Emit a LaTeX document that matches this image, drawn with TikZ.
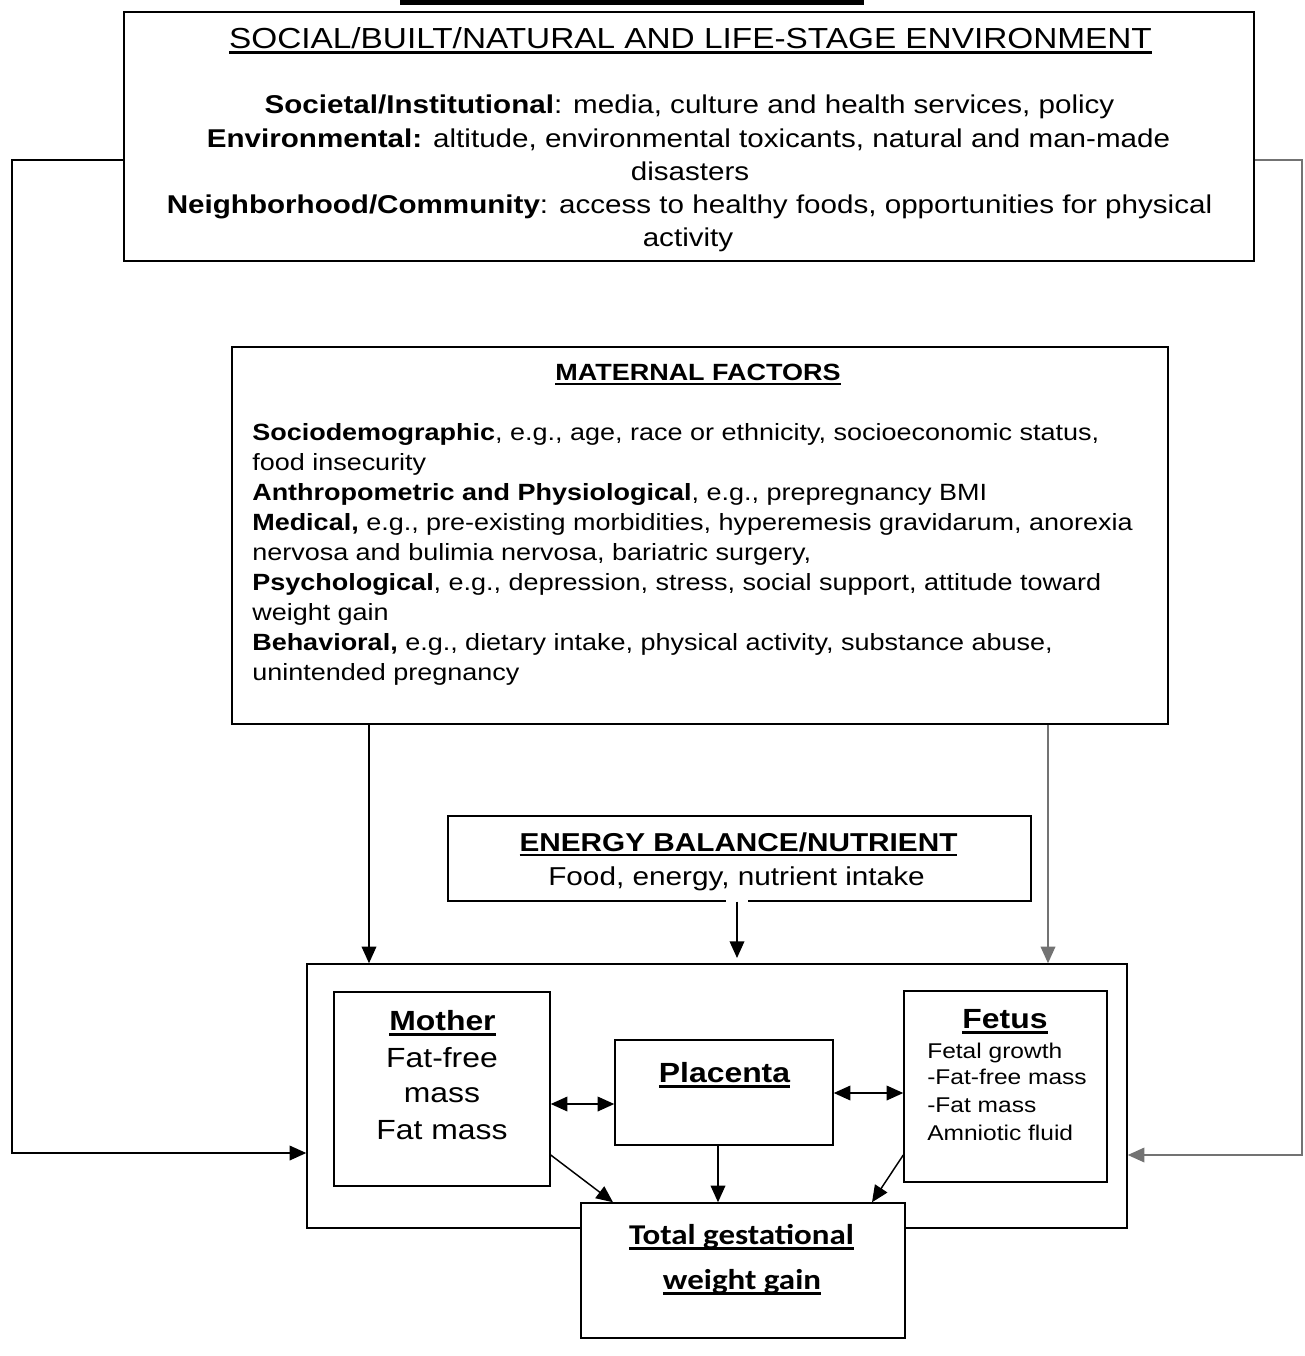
\documentclass[tikz,border=0pt]{standalone}
\usepackage{fontspec}
\setmainfont{Liberation Sans}[FakeStretch=1.15]
\newfontfamily\calfont{Carlito}[FakeStretch=1.15]
\usetikzlibrary{arrows.meta,fit}
\newsavebox\ulbox
\newcommand\ulx[1]{\sbox\ulbox{#1}\rlap{\usebox\ulbox}\rule[-0.21em]{\wd\ulbox}{0.09em}}
\newcommand\fA{\fontsize{21.75}{26}\selectfont}
\newcommand\fB{\fontsize{19.3}{23}\selectfont}
\newcommand\fC{\fontsize{17.6}{21}\selectfont}
\newcommand\fD{\fontsize{19.4}{23}\selectfont}
\newcommand\fE{\fontsize{20.8}{25}\selectfont}
\newcommand\fF{\fontsize{16}{19}\selectfont}
\newcommand\fG{\calfont\bfseries\fontsize{21.5}{26}\selectfont}
\begin{document}
\begin{tikzpicture}[x=0.75pt,y=-0.75pt,
  box/.style={draw, line width=1.1pt, inner sep=0pt, fill=white},
  ln/.style={line width=1.1pt},
  arr/.style={ln, -{Triangle[length=12.5pt,width=11pt]}},
  darr/.style={ln, {Triangle[length=12.5pt,width=11pt]}-{Triangle[length=12.5pt,width=11pt]}},
  txt/.style={inner sep=0pt, anchor=base},
  txtl/.style={inner sep=0pt, anchor=base west},
  gr/.style={draw=black!55}]
\useasboundingbox (0,0) rectangle (1304,1356);
\fill[white] (0,0) rectangle (1304,1356);
% top black bar
\fill[black] (400,0) rectangle (864,5);

% boxes
\node[box, line width=1.3pt, fit={(124,12) (1254,261)}] (env) {};
\node[box, fit={(232,347) (1168,724)}] (mat) {};
\node[box, fit={(448,816) (1031,901)}] (eb) {};
\node[box, fit={(307,964) (1127,1228)}] (sys) {};
\node[box, fit={(334,992) (550,1186)}] (mom) {};
\node[box, fit={(615,1040) (833,1145)}] (plac) {};
\node[box, fit={(904,991) (1107,1182)}] (fet) {};
\node[box, fit={(581,1203) (905,1338)}] (tot) {};

% helper coordinates
\coordinate (yl) at (0,160);
\coordinate (yr) at (0,160);
\coordinate (cl) at (12,160);
\coordinate (cl2) at (12,1153);
\coordinate (cr) at (1302,160);
\coordinate (cr2) at (1302,1155);
\coordinate (xa) at (369,0);
\coordinate (xb) at (1048,0);
\coordinate (xe) at (737,0);
\coordinate (ebend) at (737,958);
\coordinate (ymp) at (0,1104);
\coordinate (ypf) at (0,1093);
\coordinate (ydg) at (0,1155);
\coordinate (xmt) at (613,0);
\coordinate (xpt) at (718,0);
\coordinate (xft) at (872,0);

% texts: environment box
\node[txt, font=\fA] (envt) at (690.5,48) {\ulx{SOCIAL/BUILT/NATURAL AND LIFE-STAGE ENVIRONMENT}};
\node[txt, font=\fB] (env1) at (689.5,113) {\textbf{Societal/Institutional}: media, culture and health services, policy};
\node[txt, font=\fB] (env2) at (688.5,147) {\textbf{Environmental:} altitude, environmental toxicants, natural and man-made};
\node[txt, font=\fB] (env3) at (690,180) {disasters};
\node[txt, font=\fB] (env4) at (689.5,213) {\textbf{Neighborhood/Community}: access to healthy foods, opportunities for physical};
\node[txt, font=\fB] (env5) at (688,246) {activity};

% maternal factors
\node[txt, font=\fC\bfseries] (matt) at (698,380) {\ulx{MATERNAL FACTORS}};
\node[txtl, font=\fC] (m1) at (252,440) {\textbf{Sociodemographic}, e.g., age, race or ethnicity, socioeconomic status,};
\node[txtl, font=\fC] (m2) at (252,470) {food insecurity};
\node[txtl, font=\fC] (m3) at (252,500) {\textbf{Anthropometric and Physiological}, e.g., prepregnancy BMI};
\node[txtl, font=\fC] (m4) at (252,530) {\textbf{Medical,} e.g., pre-existing morbidities, hyperemesis gravidarum, anorexia};
\node[txtl, font=\fC] (m5) at (252,560) {nervosa and bulimia nervosa, bariatric surgery,};
\node[txtl, font=\fC] (m6) at (252,590) {\textbf{Psychological}, e.g., depression, stress, social support, attitude toward};
\node[txtl, font=\fC] (m7) at (252,620) {weight gain};
\node[txtl, font=\fC] (m8) at (252,650) {\textbf{Behavioral,} e.g., dietary intake, physical activity, substance abuse,};
\node[txtl, font=\fC] (m9) at (252,680) {unintended pregnancy};

% energy balance
\node[txt, font=\fD\bfseries] (ebt) at (738.5,851) {\ulx{ENERGY BALANCE/NUTRIENT}};
\node[txt, font=\fD] (eb1) at (736.5,885) {Food, energy, nutrient intake};

% mother
\node[txt, font=\fE\bfseries] (momt) at (442.5,1030) {\ulx{Mother}};
\node[txt, font=\fE] (mo1) at (442,1067) {Fat-free};
\node[txt, font=\fE] (mo2) at (442,1102) {mass};
\node[txt, font=\fE] (mo3) at (442,1139) {Fat mass};

% placenta
\node[txt, font=\fE\bfseries] (plt) at (724.5,1082) {\ulx{Placenta}};

% fetus
\node[txt, font=\fE\bfseries] (fett) at (1005,1028) {\ulx{Fetus}};
\node[txtl, font=\fF] (f1) at (927,1058) {Fetal growth};
\node[txtl, font=\fF] (f2) at (927,1084) {-Fat-free mass};
\node[txtl, font=\fF] (f3) at (927,1112) {-Fat mass};
\node[txtl, font=\fF] (f4) at (927,1140) {Amniotic fluid};

% total
\node[txt, font=\fG] (tot1) at (741.5,1244) {\ulx{Total gestational}};
\node[txt, font=\fG] (tot2) at (742,1289) {\ulx{weight gain}};

% connectors
\draw[arr] (env.west |- yl) -- (cl) -- (cl2) -- (sys.west |- cl2);
\draw[arr, gr] (env.east |- yr) -- (cr) -- (cr2) -- (sys.east |- cr2);
\draw[arr] (mat.south -| xa) -- (sys.north -| xa);
\draw[arr, gr] (mat.south -| xb) -- (sys.north -| xb);
\draw[white, line width=2pt] (726,901) -- (748,901);
\draw[arr] (eb.south -| xe) -- (ebend);
\draw[darr] (mom.east |- ymp) -- (plac.west |- ymp);
\draw[darr] (plac.east |- ypf) -- (fet.west |- ypf);
\draw[arr] (mom.east |- ydg) -- (tot.north -| xmt);
\draw[arr] (plac.south -| xpt) -- (tot.north -| xpt);
\draw[arr] (fet.west |- ydg) -- (tot.north -| xft);
\end{tikzpicture}
\end{document}
